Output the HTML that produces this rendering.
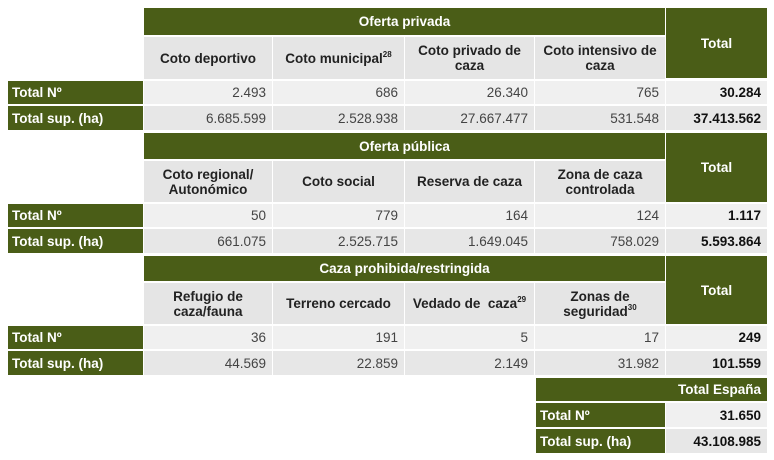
<!DOCTYPE html>
<html><head><meta charset="utf-8"><style>
body{margin:0;width:774px;height:460px;background:#fff;position:relative;overflow:hidden;font-family:"Liberation Sans",sans-serif;font-size:13.5px}
div.c{position:absolute;display:flex;align-items:center;box-sizing:border-box;line-height:15px}
.g{background:#4a5d17;color:#fff;font-weight:bold}
.h{background:#e5e5e5;color:#222;font-weight:bold;justify-content:center;text-align:center}
.r1{background:#f0f0f0;color:#444;justify-content:flex-end;padding-right:6px}
.r2{background:#e7e7e7;color:#444;justify-content:flex-end;padding-right:6px}
.l{padding-left:4px}
.ctr{justify-content:center;text-align:center}
.rt{justify-content:flex-end;padding-right:6px}
.b{font-weight:bold;color:#111}
sup{font-size:8px;vertical-align:top;line-height:8px}
</style></head><body>
<!-- Section 1 -->
<div class="c g ctr" style="left:144px;top:8px;width:521px;height:27px">Oferta privada</div>
<div class="c g ctr" style="left:666px;top:8px;width:101px;height:70px">Total</div>
<div class="c h" style="left:144px;top:37px;width:128px;height:42px">Coto deportivo</div>
<div class="c h" style="left:273px;top:37px;width:131px;height:42px"><span>Coto municipal<sup>28</sup></span></div>
<div class="c h" style="left:405px;top:37px;width:129px;height:42px"><span>Coto privado de<br>caza</span></div>
<div class="c h" style="left:535px;top:37px;width:130px;height:42px"><span>Coto intensivo de<br>caza</span></div>
<div class="c g l" style="left:8px;top:81px;width:135px;height:23px">Total Nº</div>
<div class="c r1" style="left:144px;top:81px;width:128px;height:23px">2.493</div>
<div class="c r1" style="left:273px;top:81px;width:131px;height:23px">686</div>
<div class="c r1" style="left:405px;top:81px;width:129px;height:23px">26.340</div>
<div class="c r1" style="left:535px;top:81px;width:130px;height:23px">765</div>
<div class="c r1 b" style="left:666px;top:81px;width:101px;height:23px">30.284</div>
<div class="c g l" style="left:8px;top:106px;width:135px;height:24px">Total sup. (ha)</div>
<div class="c r2" style="left:144px;top:106px;width:128px;height:24px">6.685.599</div>
<div class="c r2" style="left:273px;top:106px;width:131px;height:24px">2.528.938</div>
<div class="c r2" style="left:405px;top:106px;width:129px;height:24px">27.667.477</div>
<div class="c r2" style="left:535px;top:106px;width:130px;height:24px">531.548</div>
<div class="c r2 b" style="left:666px;top:106px;width:101px;height:24px">37.413.562</div>
<!-- Section 2 -->
<div class="c g ctr" style="left:144px;top:133px;width:521px;height:26px">Oferta pública</div>
<div class="c g ctr" style="left:666px;top:133px;width:101px;height:69px">Total</div>
<div class="c h" style="left:144px;top:161px;width:128px;height:41px"><span>Coto regional/<br>Autonómico</span></div>
<div class="c h" style="left:273px;top:161px;width:131px;height:41px">Coto social</div>
<div class="c h" style="left:405px;top:161px;width:129px;height:41px">Reserva de caza</div>
<div class="c h" style="left:535px;top:161px;width:130px;height:41px"><span>Zona de caza<br>controlada</span></div>
<div class="c g l" style="left:8px;top:204px;width:135px;height:23px">Total Nº</div>
<div class="c r1" style="left:144px;top:204px;width:128px;height:23px">50</div>
<div class="c r1" style="left:273px;top:204px;width:131px;height:23px">779</div>
<div class="c r1" style="left:405px;top:204px;width:129px;height:23px">164</div>
<div class="c r1" style="left:535px;top:204px;width:130px;height:23px">124</div>
<div class="c r1 b" style="left:666px;top:204px;width:101px;height:23px">1.117</div>
<div class="c g l" style="left:8px;top:229px;width:135px;height:24px">Total sup. (ha)</div>
<div class="c r2" style="left:144px;top:229px;width:128px;height:24px">661.075</div>
<div class="c r2" style="left:273px;top:229px;width:131px;height:24px">2.525.715</div>
<div class="c r2" style="left:405px;top:229px;width:129px;height:24px">1.649.045</div>
<div class="c r2" style="left:535px;top:229px;width:130px;height:24px">758.029</div>
<div class="c r2 b" style="left:666px;top:229px;width:101px;height:24px">5.593.864</div>
<!-- Section 3 -->
<div class="c g ctr" style="left:144px;top:256px;width:521px;height:25px">Caza prohibida/restringida</div>
<div class="c g ctr" style="left:666px;top:256px;width:101px;height:68px">Total</div>
<div class="c h" style="left:144px;top:283px;width:128px;height:41px"><span>Refugio de<br>caza/fauna</span></div>
<div class="c h" style="left:273px;top:283px;width:131px;height:41px">Terreno cercado</div>
<div class="c h" style="left:405px;top:283px;width:129px;height:41px"><span>Vedado de &nbsp;caza<sup>29</sup></span></div>
<div class="c h" style="left:535px;top:283px;width:130px;height:41px"><span>Zonas de<br>seguridad<sup>30</sup></span></div>
<div class="c g l" style="left:8px;top:326px;width:135px;height:23px">Total Nº</div>
<div class="c r1" style="left:144px;top:326px;width:128px;height:23px">36</div>
<div class="c r1" style="left:273px;top:326px;width:131px;height:23px">191</div>
<div class="c r1" style="left:405px;top:326px;width:129px;height:23px">5</div>
<div class="c r1" style="left:535px;top:326px;width:130px;height:23px">17</div>
<div class="c r1 b" style="left:666px;top:326px;width:101px;height:23px">249</div>
<div class="c g l" style="left:8px;top:351px;width:135px;height:24px">Total sup. (ha)</div>
<div class="c r2" style="left:144px;top:351px;width:128px;height:24px">44.569</div>
<div class="c r2" style="left:273px;top:351px;width:131px;height:24px">22.859</div>
<div class="c r2" style="left:405px;top:351px;width:129px;height:24px">2.149</div>
<div class="c r2" style="left:535px;top:351px;width:130px;height:24px">31.982</div>
<div class="c r2 b" style="left:666px;top:351px;width:101px;height:24px">101.559</div>
<!-- Total España -->
<div class="c g rt" style="left:536px;top:378px;width:231px;height:23px">Total España</div>
<div class="c g l" style="left:536px;top:403px;width:129px;height:24px">Total Nº</div>
<div class="c r1 b" style="left:666px;top:403px;width:101px;height:24px">31.650</div>
<div class="c g l" style="left:536px;top:429px;width:129px;height:24px">Total sup. (ha)</div>
<div class="c r2 b" style="left:666px;top:429px;width:101px;height:24px">43.108.985</div>
</body></html>
